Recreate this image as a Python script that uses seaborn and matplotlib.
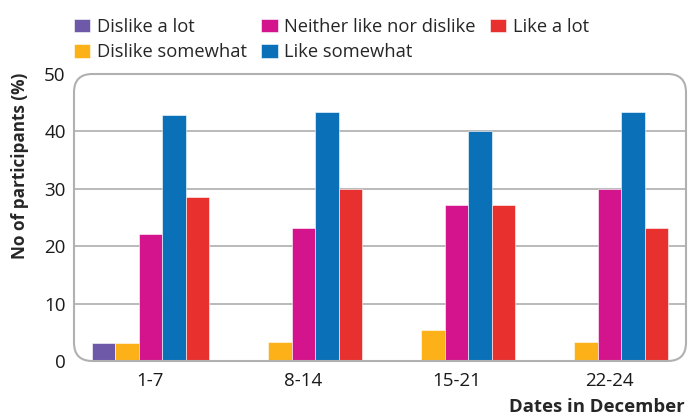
import pandas as pd
import numpy as np
import seaborn as sns
import matplotlib.pyplot as plt
from matplotlib.patches import FancyBboxPatch

sns.set_style("white")
plt.rcParams['font.family'] = ['Open Sans', 'DejaVu Sans']

dates = ['1-7', '8-14', '15-21', '22-24']
responses = ['Dislike a lot', 'Dislike somewhat', 'Neither like nor dislike',
             'Like somewhat', 'Like a lot']
dislike_lot = [3.2, 0, 0, 0]
dislike_some = [3.1, 3.25, 5.4, 3.25]
neither = [22.2, 23.2, 27.2, 30.0]
like_some = [42.9, 43.3, 40.0, 43.3]
like_lot = [28.6, 30.0, 27.2, 23.2]
colors = ['#6d59a8', '#fdb119', '#d4148c', '#0a71b9', '#e8302f']

# длинная таблица для seaborn
df = pd.DataFrame({'date': dates * 5,
                   'response': np.repeat(responses, 4),
                   'value': dislike_lot + dislike_some + neither + like_some + like_lot})

fig = plt.figure(figsize=(6.89, 4.16), dpi=100)
ax = fig.add_axes([74/689, 1 - 361/416, 612/689, 287/416])

sns.barplot(data=df, x='date', y='value', hue='response', order=dates,
            hue_order=responses, palette=colors, width=0.77, saturation=1,
            edgecolor='white', linewidth=0.4, ax=ax, zorder=3)

ax.set_ylim(0, 50)
ax.set_xlim(-0.5, 3.5)
ax.set_yticks([0, 10, 20, 30, 40, 50])
for y in [10, 20, 30, 40]:
    ax.axhline(y, color='#b4b4b4', lw=1.3, zorder=1)
for s in ax.spines.values():
    s.set_visible(False)
# рамка со скруглёнными углами
box = FancyBboxPatch((0, 0), 1, 1, boxstyle='round,pad=0,rounding_size=0.03',
                     transform=ax.transAxes, fill=False, ec='#b0b0b0', lw=1.5,
                     mutation_aspect=612/287, clip_on=False, zorder=4)
ax.add_patch(box)

ax.tick_params(axis='both', length=0, labelsize=13.5, colors='#1a1a1a')
ax.tick_params(axis='x', pad=8)
ax.tick_params(axis='y', pad=6)
ax.set_xlabel('')
ax.set_ylabel('')
fig.text(20/689, 1 - 166/416, 'No of participants (%)', rotation=90,
         ha='center', va='center', fontsize=12.3, fontweight='bold')
fig.text(685/689, 1 - 407/416, 'Dates in December', ha='right', va='center',
         fontsize=13.3, fontweight='bold')

handles, labels = ax.get_legend_handles_labels()
ax.legend(handles, labels, ncol=3, frameon=False, fontsize=13.2,
          loc='upper left', bbox_to_anchor=(74/689, 1 - 17.5/416),
          bbox_transform=fig.transFigure,
          handlelength=0.88, handleheight=0.72, handletextpad=0.36,
          columnspacing=0.8, labelspacing=0.43, borderaxespad=0, borderpad=0)

fig.savefig('out.png', dpi=100)
